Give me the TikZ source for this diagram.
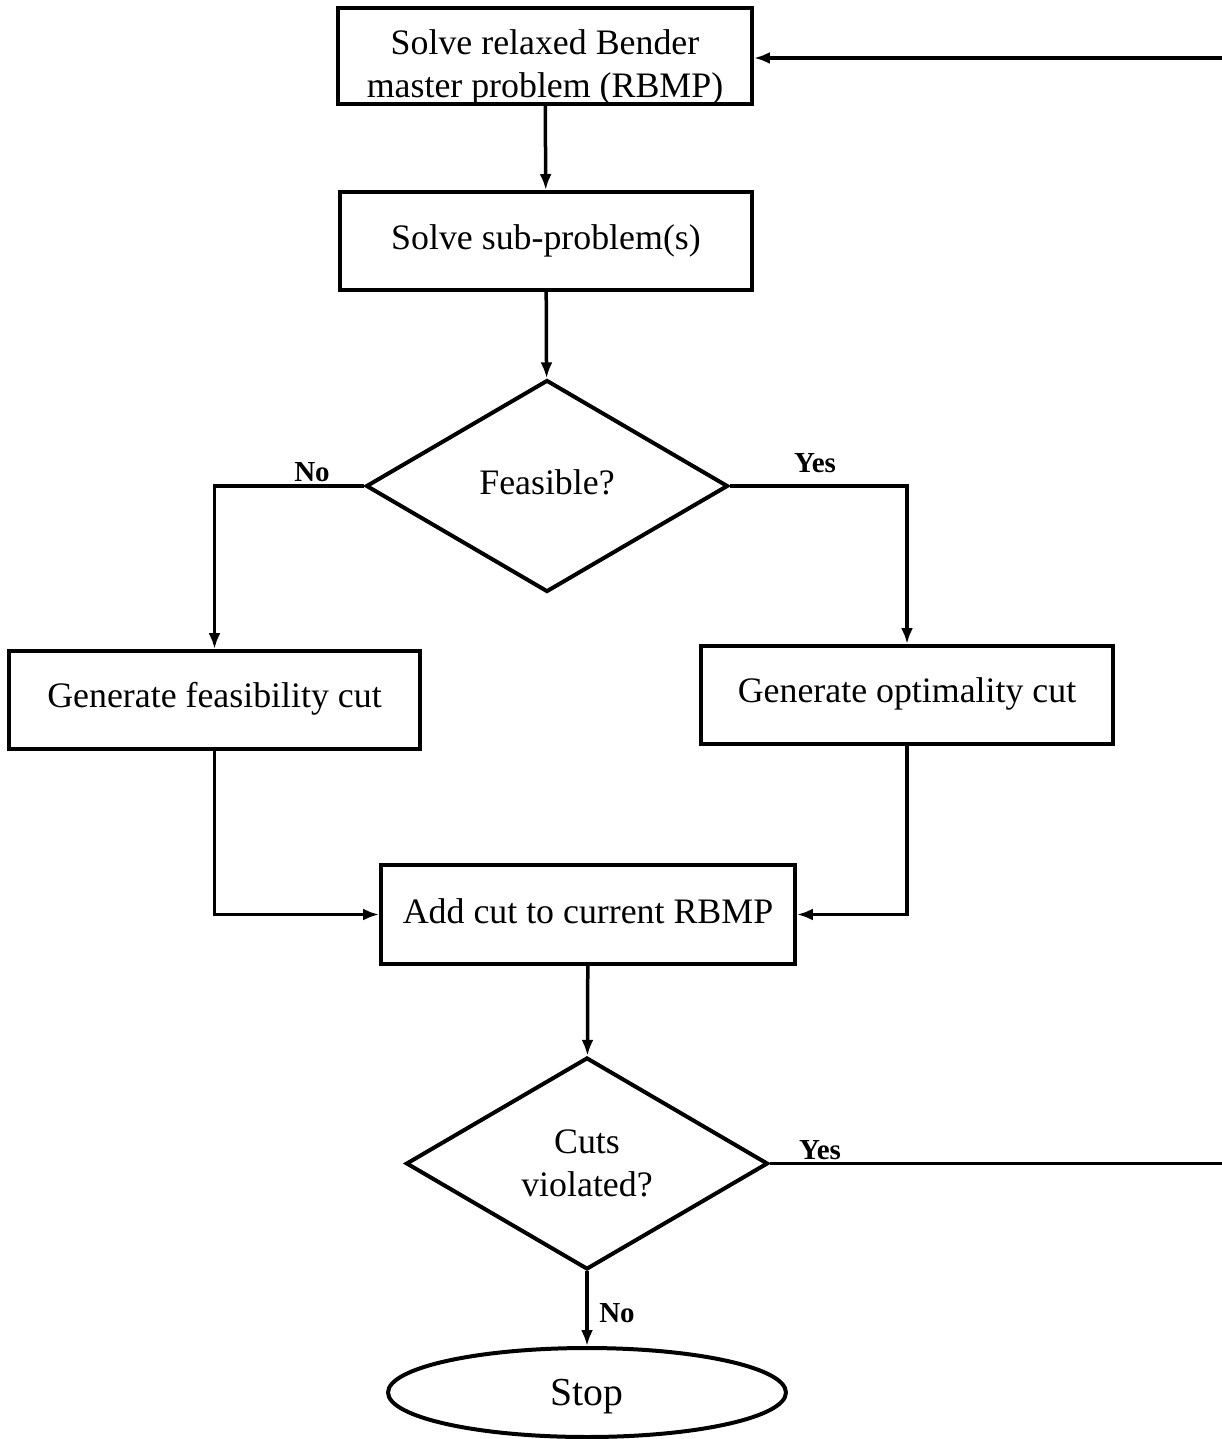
\documentclass[tikz,border=0pt]{standalone}
\usepackage{fontspec}
\setmainfont{Liberation Serif}
\usetikzlibrary{calc,shapes.geometric,arrows.meta}

\tikzset{
	box/.style={draw,line width=0.08cm,minimum width=8.24cm,minimum height=1.96cm,
		align=center,font=\fontsize{20.4}{24.5}\selectfont},
	decision/.style={draw,diamond,line width=0.08cm,minimum width=7.24cm,minimum height=4.24cm,
		align=center,inner sep=0pt,font=\fontsize{20.4}{24.5}\selectfont},
	terminal/.style={draw,ellipse,line width=0.08cm,minimum width=7.96cm,minimum height=1.78cm,
		font=\fontsize{22.6}{26}\selectfont},
	flow/.style={line width=0.07cm,-{Latex[length=3.2mm,width=2.4mm]}},
	answer/.style={font=\bfseries\fontsize{16.5}{19}\selectfont,inner sep=1pt}
}

\begin{document}
\begin{tikzpicture}[x=0.02cm,y=-0.02cm]
	% Рамка рисунка
	\clip (0,0) rectangle (1222,1439);
	% Блоки алгоритма
	\node[box,minimum width=8.28cm,minimum height=1.92cm] (rbmp) at (545,56) {};
	\begin{scope}
		% текст внизу обрезан рамкой
		\clip (rbmp.north west) rectangle ($(rbmp.south east)+(0,-4)$);
		\node[align=center,inner sep=0pt,font=\fontsize{20.4}{24.5}\selectfont] (rbmpText) at (545,67)
			{Solve relaxed Bender\\master problem (RBMP)};
	\end{scope}
	\node[box] (sub) at (546,241) {Solve sub-problem(s)};
	\node[decision] (feas) at (547,486) {\raisebox{0.2em}{Feasible?}};
	\node[box,minimum width=8.22cm] (gfc) at (214.5,700) {\raisebox{0.3em}{Generate feasibility cut}};
	\node[box] (goc) at (907,695) {\raisebox{0.3em}{Generate optimality cut}};
	\node[box,minimum width=8.28cm,minimum height=1.98cm] (add) at (588,914.5) {\raisebox{0.2em}{Add cut to current RBMP}};
	\node[decision] (cuts) at (587,1163.5) {Cuts\\violated?};
	\node[terminal,text depth=0pt] (stop) at (587,1392.5) {Stop};
	% Точки обратной связи (за краем рисунка)
	\coordinate (loopB) at (1245,1163.5);
	\coordinate (loopT) at (1245,58);
	% Стрелки
	\draw[flow] (rbmp) -- (sub);
	\draw[flow] (sub) -- (feas);
	\draw[flow] (feas.west) -| (gfc.north);
	\draw[flow] (feas.east) -| (goc.north);
	\draw[flow] (gfc.south) |- (add.west);
	\draw[flow] (goc.south) |- (add.east);
	\draw[flow] (add) -- (cuts);
	\draw[flow] (cuts.south) -- (stop.north);
	\draw[flow] (cuts.east) -- (loopB) -- (loopT) -- (rbmp.east |- loopT);
	% Подписи ветвей
	\node[answer] (noA) at (312,472) {No};
	\node[answer] (yesA) at (815,463) {Yes};
	\node[answer] (yesB) at (820,1150) {Yes};
	\node[answer] (noB) at (617,1313) {No};
\end{tikzpicture}
\end{document}
